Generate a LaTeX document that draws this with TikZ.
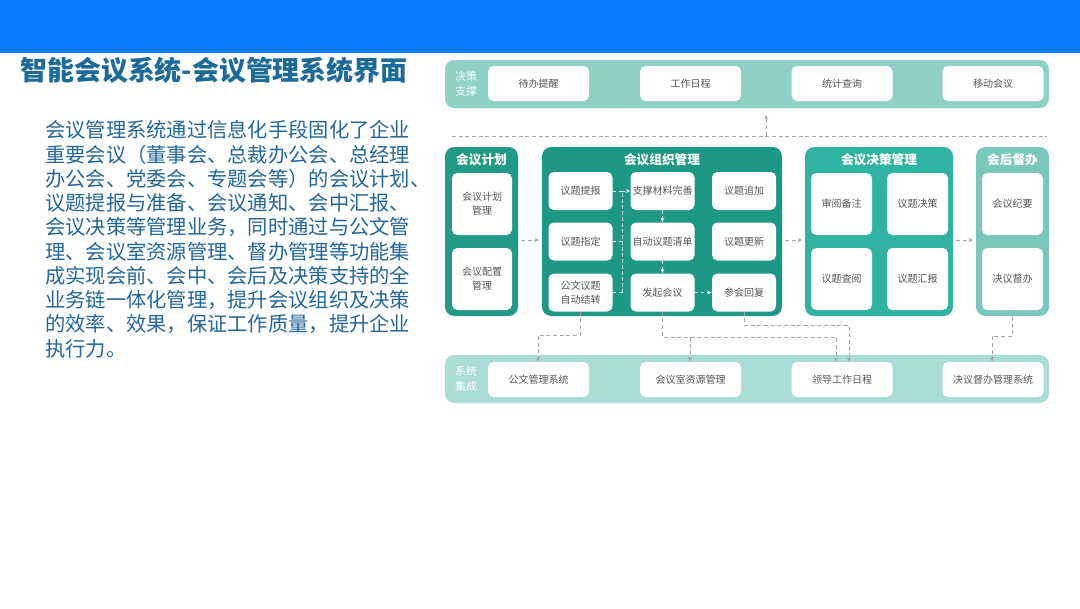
\documentclass[tikz,border=0pt]{standalone}
\usepackage{fontspec}
\setmainfont{Noto Sans CJK SC}
\usetikzlibrary{arrows.meta}
\definecolor{topblue}{HTML}{0A7AFF}
\definecolor{titlecol}{HTML}{1B6A98}
\definecolor{paracol}{HTML}{23679A}
\definecolor{gA}{HTML}{219B88}
\definecolor{gB}{HTML}{1C9884}
\definecolor{gC}{HTML}{30B3A2}
\definecolor{gD}{HTML}{79C8BB}
\definecolor{bandtop}{HTML}{90D1C6}
\definecolor{bandbot}{HTML}{AADDD5}
\definecolor{boxtext}{HTML}{555555}
\definecolor{inarrow}{HTML}{D6F0EB}
\tikzset{
  wbox/.style={fill=white, rounded corners=4pt, inner sep=1pt, align=center,
    text=boxtext, font=\fontsize{7.5pt}{10.5pt}\selectfont},
  grp/.style={rounded corners=7pt, inner sep=0pt},
  grptitle/.style={text=white, font=\bfseries\fontsize{9.5pt}{11pt}\selectfont, inner sep=0pt},
  band/.style={rounded corners=7pt, inner sep=0pt},
  bandlabel/.style={text=white, align=center, font=\fontsize{8.25pt}{11.25pt}\selectfont, inner sep=0pt},
  para/.style={anchor=west, inner sep=0pt, text=paracol, font=\fontsize{15.2pt}{18pt}\selectfont},
  gconn/.style={draw=gray!70, dash pattern=on 3pt off 2pt, line width=0.7pt},
  garrow/.style={gconn, -{Stealth[length=3.5pt,width=3pt]}},
  wconn/.style={draw=inarrow, dash pattern=on 2.5pt off 2pt, line width=0.7pt},
  warrow/.style={wconn, -{Stealth[length=3.5pt,width=3pt]}},
}
\begin{document}
\begin{tikzpicture}[x=0.75pt,y=-0.75pt]
\useasboundingbox (0,0) rectangle (1080,608);
\fill[white] (0,0) rectangle (1080,608);
% header band
\fill[topblue] (0,0) rectangle (1080,53);
% title
\node[anchor=west, inner sep=0pt, text=titlecol, font=\bfseries\fontsize{20.2pt}{22pt}\selectfont] (title) at (20,70.5) {智能会议系统-会议管理系统界面};
% paragraph
\node[para] (l1) at (45,130.0) {会议管理系统通过信息化手段固化了企业};
\node[para] (l2) at (45,154.3) {重要会议（董事会、总裁办公会、总经理};
\node[para] (l3) at (45,178.6) {办公会、党委会、专题会等）的会议计划、};
\node[para] (l4) at (45,202.9) {议题提报与准备、会议通知、会中汇报、};
\node[para] (l5) at (45,227.2) {会议决策等管理业务，同时通过与公文管};
\node[para] (l6) at (45,251.5) {理、会议室资源管理、督办管理等功能集};
\node[para] (l7) at (45,275.8) {成实现会前、会中、会后及决策支持的全};
\node[para] (l8) at (45,300.1) {业务链一体化管理，提升会议组织及决策};
\node[para] (l9) at (45,324.4) {的效率、效果，保证工作质量，提升企业};
\node[para] (l10) at (45,348.7) {执行力。};

% top band
\node[band, fill=bandtop, minimum width=453pt, minimum height=36pt] (topband) at (747,84) {};
\node[bandlabel] (toplab) at (466,84) {决策\\支撑};
\node[wbox, minimum width=75.75pt, minimum height=26.25pt] (t1) at (538.5,83.5) {待办提醒};
\node[wbox, minimum width=75.75pt, minimum height=26.25pt] (t2) at (690.5,83.5) {工作日程};
\node[wbox, minimum width=75.75pt, minimum height=26.25pt] (t3) at (842,83.5) {统计查询};
\node[wbox, minimum width=75.75pt, minimum height=26.25pt] (t4) at (993,83.5) {移动会议};

% separator
\coordinate (sepL) at (452,136);
\coordinate (sepR) at (1047,136);
\draw[gconn] (sepL) -- (sepR);
\coordinate (upS) at (766,136);
\coordinate (upE) at (766,115);
\draw[garrow] (upS) -- (upE);

% groups
\node[grp, fill=gA, minimum width=54.75pt, minimum height=126.75pt] (g1) at (481.5,231.5) {};
\node[grptitle] (g1t) at (481.5,159.5) {会议计划};
\node[grp, fill=gB, minimum width=180pt, minimum height=126.75pt] (g2) at (662,231.5) {};
\node[grptitle] (g2t) at (662,159.5) {会议组织管理};
\node[grp, fill=gC, minimum width=111pt, minimum height=126.75pt] (g3) at (879,231.5) {};
\node[grptitle] (g3t) at (879,159.5) {会议决策管理};
\node[grp, fill=gD, minimum width=54.75pt, minimum height=126.75pt] (g4) at (1012.5,231.5) {};
\node[grptitle] (g4t) at (1012.5,159.5) {会后督办};

% group 1 inner
\node[wbox, minimum width=45pt, minimum height=46.5pt] (p1) at (482,204) {会议计划\\管理};
\node[wbox, minimum width=45pt, minimum height=46.5pt] (p2) at (482,279) {会议配置\\管理};

% group 2 inner
\node[wbox, minimum width=48pt, minimum height=28.5pt] (a11) at (580.5,191) {议题提报};
\node[wbox, minimum width=48pt, minimum height=28.5pt] (a12) at (662.5,191) {支撑材料完善};
\node[wbox, minimum width=48pt, minimum height=28.5pt] (a13) at (744,191) {议题追加};
\node[wbox, minimum width=48pt, minimum height=28.5pt] (a21) at (580.5,241.5) {议题指定};
\node[wbox, minimum width=48pt, minimum height=28.5pt] (a22) at (662.5,241.5) {自动议题清单};
\node[wbox, minimum width=48pt, minimum height=28.5pt] (a23) at (744,241.5) {议题更新};
\node[wbox, minimum width=48pt, minimum height=28.5pt] (a31) at (580.5,292.5) {公文议题\\自动结转};
\node[wbox, minimum width=48pt, minimum height=28.5pt] (a32) at (662.5,292.5) {发起会议};
\node[wbox, minimum width=48pt, minimum height=28.5pt] (a33) at (744,292.5) {参会回复};

% group 3 inner
\node[wbox, minimum width=45.75pt, minimum height=46.5pt] (c11) at (841.5,204) {审阅备注};
\node[wbox, minimum width=45.75pt, minimum height=46.5pt] (c12) at (917.5,204) {议题决策};
\node[wbox, minimum width=45.75pt, minimum height=46.5pt] (c21) at (841.5,279) {议题查阅};
\node[wbox, minimum width=45.75pt, minimum height=46.5pt] (c22) at (917.5,279) {议题汇报};

% group 4 inner
\node[wbox, minimum width=45.75pt, minimum height=46.5pt] (d1) at (1012.5,204) {会议纪要};
\node[wbox, minimum width=45.75pt, minimum height=46.5pt] (d2) at (1012.5,279) {决议督办};

% bottom band
\node[band, fill=bandbot, minimum width=453pt, minimum height=36pt] (botband) at (747,379) {};
\node[bandlabel] (botlab) at (466,379) {系统\\集成};
\node[wbox, minimum width=75.75pt, minimum height=26.25pt] (b1) at (538.5,379.5) {公文管理系统};
\node[wbox, minimum width=75.75pt, minimum height=26.25pt] (b2) at (690.5,379.5) {会议室资源管理};
\node[wbox, minimum width=75.75pt, minimum height=26.25pt] (b3) at (842,379.5) {领导工作日程};
\node[wbox, minimum width=75.75pt, minimum height=26.25pt] (b4) at (993,379.5) {决议督办管理系统};

% arrows between groups
\coordinate (ay) at (0,240);
\draw[garrow, shorten <=2pt, shorten >=2pt] (g1.east |- ay) -- (g2.west |- ay);
\draw[garrow, shorten <=2pt, shorten >=2pt] (g2.east |- ay) -- (g3.west |- ay);
\draw[garrow, shorten <=2pt, shorten >=2pt] (g3.east |- ay) -- (g4.west |- ay);

% group 2 internal connectors
\coordinate (vx) at (622,0);
\draw[wconn] (a11.east) -- (vx |- a11.east);
\draw[wconn] (a21.east) -- (vx |- a21.east);
\draw[wconn] (a31.east) -- (vx |- a31.east);
\draw[wconn] (vx |- a31.east) -- (vx |- a11.east);
\draw[warrow] (vx |- a11.east) -- (a12.west);
\draw[warrow] (a12.south) -- (a22.north);
\draw[warrow] (a22.south) -- (a32.north);
\draw[warrow] (a32.east) -- (a33.west);

% connectors to bottom band
\coordinate (k1) at (538,335);
\draw[garrow] (a31.south) |- (k1) -- (k1 |- b1.north);
\coordinate (k2) at (836,337);
\coordinate (k2b) at (690,337);
\draw[garrow] (a32.south) |- (k2) -- (k2 |- b3.north);
\draw[garrow] (k2b) -- (k2b |- b2.north);
\coordinate (k3) at (849,325);
\draw[garrow] (a33.south) |- (k3) -- (k3 |- b3.north);
\coordinate (k4) at (992,336);
\draw[garrow] (d2.south -| g4.center) |- (k4) -- (k4 |- b4.north);
\end{tikzpicture}
\end{document}
